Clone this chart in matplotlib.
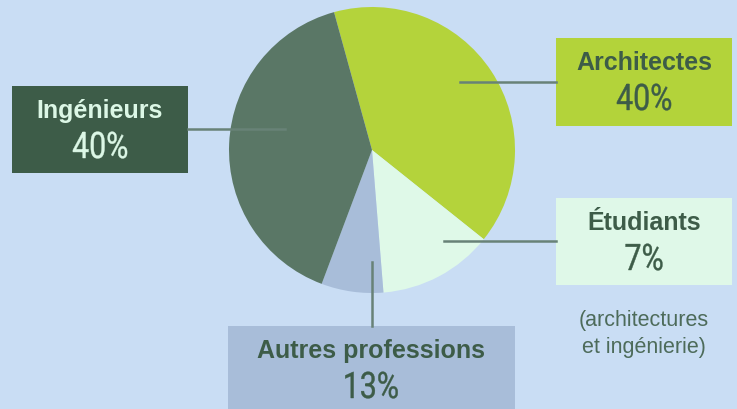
import matplotlib.pyplot as plt
from matplotlib.patches import Rectangle, PathPatch
from matplotlib.textpath import TextPath
from matplotlib.font_manager import FontProperties
from matplotlib.transforms import Affine2D

# slice shares as drawn (clockwise from the top)
categories = ["Architectes", "Étudiants", "Autres professions", "Ingénieurs"]
shares = [40, 13, 7, 40]
pct_labels = ["40%", "7%", "13%", "40%"]
note_lines = ["(architectures", "et ingénierie)"]
slice_colors = ["#b4d33b", "#dff9e8", "#a8bdd9", "#5a7766"]
box_colors = ["#b3d33a", "#dff8e8", "#a8bdd9", "#3d5c48"]
text_colors = ["#3d5c48", "#3d5c48", "#3d5c48", "#dcf7e6"]

BG = "#c9ddf4"
LINE = "#688277"
H = 409

fig = plt.figure(figsize=(7.37, 4.09), dpi=100)
fig.patch.set_facecolor(BG)
ax = fig.add_axes([0, 0, 1, 1])


def py(y):
    # pixel row from top -> data y
    return H - y


def narrow_text(x, y, s, size, color, squeeze=0.83):
    # condensed look: draw the glyph outlines squeezed horizontally
    tp = TextPath((0, 0), s, size=size, prop=FontProperties(family="Roboto"))
    bb = tp.get_extents()
    tr = Affine2D().translate(-(bb.x0 + bb.x1) / 2, 0).scale(squeeze, 1).translate(x, y)
    ax.add_patch(PathPatch(tr.transform_path(tp), facecolor=color, edgecolor=color,
                           linewidth=0.3, zorder=5))


ax.pie(shares, colors=slice_colors, startangle=105.4, counterclock=False,
       center=(372, py(150)), radius=143, frame=True,
       wedgeprops={"linewidth": 0})
ax.set_xlim(0, 737)
ax.set_ylim(0, H)
ax.set_aspect("equal")
ax.axis("off")

# label boxes: (x0, y0 top, x1, y1 bottom) in pixels
boxes = [(556, 38, 732, 126), (556, 198, 732, 285), (228, 326, 515, 415), (12, 86, 188, 173)]
leaders = [((460, 82), (556, 82)), ((444, 241), (556, 241)),
           ((372, 262), (372, 326)), ((188, 129), (285, 129))]

for i, name in enumerate(categories):
    x0, y0, x1, y1 = boxes[i]
    ax.add_patch(Rectangle((x0, py(y1)), x1 - x0, y1 - y0, facecolor=box_colors[i],
                           edgecolor="none", zorder=3))
    (ax0, ay0), (ax1, ay1) = leaders[i]
    ax.plot([ax0, ax1], [py(ay0), py(ay1)], color=LINE, linewidth=1.8, zorder=4)
    cx = (x0 + x1) / 2
    ax.text(cx, py(y0 + 32), name, ha="center", va="baseline", fontsize=18,
            fontweight="bold", family=["Liberation Sans", "DejaVu Sans"],
            color=text_colors[i], zorder=5)
    narrow_text(cx, py(y0 + 72), pct_labels[i], 36.5, text_colors[i])

for k, line in enumerate(note_lines):
    ax.text(644, py(326 + 27 * k), line, ha="center", va="baseline",
            fontsize=15.5, family=["Liberation Sans", "DejaVu Sans"],
            color="#4d6b5a", zorder=5)

fig.savefig("out.png", dpi=100, facecolor=BG)
